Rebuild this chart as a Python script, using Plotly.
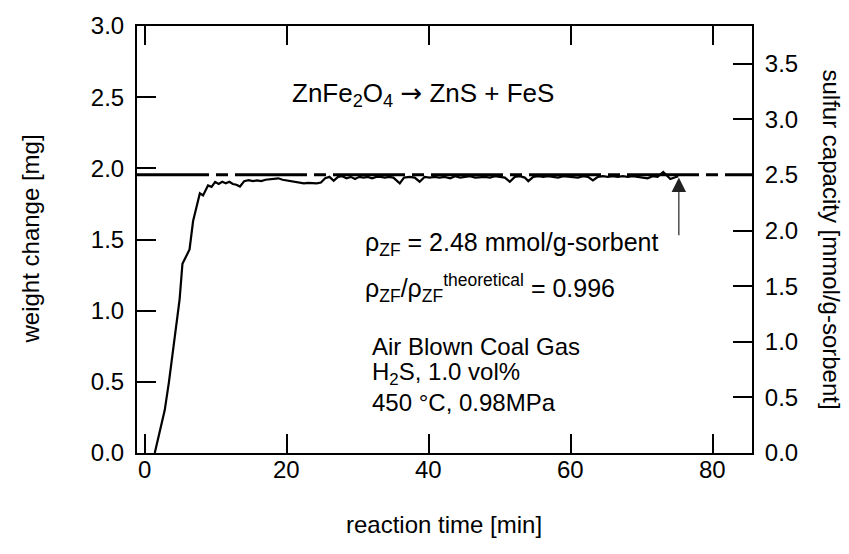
import plotly.graph_objects as go

# ---- data ----
time_min = [1.4, 2.0, 2.8, 3.4, 4.0, 4.5, 4.9, 5.3, 5.8, 6.3, 6.8, 7.2, 7.75, 8.2, 8.9, 9.4, 9.9,
            10.4, 10.9, 11.4, 11.9, 12.4, 12.9, 13.4, 14.0, 14.6, 15.2, 15.8, 16.4, 17.0, 17.6,
            18.2, 18.8, 19.4, 20.0, 20.6, 21.2, 21.8, 22.4, 23.0, 23.6, 24.2, 24.8, 25.4, 26.0,
            26.6, 27.2, 27.8, 28.4, 29.0, 29.6, 30.2, 30.8, 31.4, 32.0, 32.6, 33.2, 33.8, 34.4,
            35.0, 35.9, 36.5, 37.3, 38.0, 38.7, 39.4, 40.1, 40.8, 41.5, 42.2, 43.0, 43.7, 44.4,
            45.1, 45.8, 46.5, 47.2, 47.9, 48.6, 49.3, 50.0, 50.7, 51.4, 52.1, 52.8, 53.5, 54.0,
            54.7, 55.4, 56.1, 56.8, 57.5, 58.2, 58.9, 59.6, 60.3, 61.0, 61.7, 62.4, 63.1, 63.8,
            64.5, 65.2, 65.9, 66.6, 67.3, 68.0, 68.7, 69.4, 70.1, 70.8, 71.5, 72.2, 73.0, 74.0,
            75.1]
weight_mg = [0.0, 0.12, 0.30, 0.50, 0.73, 0.96, 1.08, 1.33, 1.38, 1.43, 1.63, 1.72, 1.825, 1.81,
             1.88, 1.87, 1.905, 1.89, 1.905, 1.895, 1.905, 1.89, 1.885, 1.872, 1.91, 1.917, 1.91,
             1.915, 1.91, 1.92, 1.925, 1.93, 1.93, 1.92, 1.915, 1.905, 1.90, 1.895, 1.895, 1.898,
             1.895, 1.894, 1.90, 1.93, 1.94, 1.912, 1.94, 1.945, 1.93, 1.94, 1.925, 1.94, 1.935,
             1.94, 1.93, 1.94, 1.94, 1.935, 1.94, 1.935, 1.894, 1.935, 1.94, 1.935, 1.906, 1.94,
             1.935, 1.94, 1.935, 1.94, 1.93, 1.945, 1.935, 1.94, 1.945, 1.935, 1.94, 1.94, 1.935,
             1.945, 1.94, 1.935, 1.905, 1.94, 1.945, 1.935, 1.91, 1.94, 1.945, 1.94, 1.945, 1.94,
             1.935, 1.945, 1.94, 1.94, 1.935, 1.945, 1.94, 1.915, 1.94, 1.945, 1.94, 1.945, 1.94,
             1.945, 1.94, 1.945, 1.94, 1.935, 1.93, 1.945, 1.94, 1.975, 1.925, 1.945]

plateau_mg = 1.955          # dashed saturation level
arrow_time = 75.2           # arrow position
arrow_tail_mg = 1.52

x_ticks = [0, 20, 40, 60, 80]
y_ticks = [0.0, 0.5, 1.0, 1.5, 2.0, 2.5, 3.0]
y2_ticks = [0.0, 0.5, 1.0, 1.5, 2.0, 2.5, 3.0, 3.5]

x_range = [-1.1, 85.5]
y_range = [0, 3.0]
y2_range = [0, 3.84]

FONT = "Liberation Sans, Arial, sans-serif"
FS = 24

fig = go.Figure()
fig.add_trace(go.Scatter(x=time_min, y=weight_mg, mode="lines",
                         line=dict(color="black", width=2.2), showlegend=False, hoverinfo="skip"))
# invisible trace to activate the secondary axis
fig.add_trace(go.Scatter(x=[x_range[0]], y=[0], yaxis="y2", mode="markers",
                         marker=dict(opacity=0), showlegend=False, hoverinfo="skip"))

fig.add_shape(type="line", xref="paper", x0=0, x1=1, yref="y", y0=plateau_mg, y1=plateau_mg,
              line=dict(color="black", width=3, dash="72px,7px,12px,7px"))

fig.add_annotation(x=arrow_time, y=plateau_mg - 0.02, ax=arrow_time, ay=arrow_tail_mg,
                   xref="x", yref="y", axref="x", ayref="y", text="", showarrow=True,
                   arrowhead=2, arrowsize=2.4, arrowwidth=1.2, arrowcolor="#222")

def txt(xp, yp, s, size=FS):
    fig.add_annotation(x=(xp - 137) / 615, y=(453 - yp) / 435, xref="paper", yref="paper",
                       text=s, showarrow=False, xanchor="left", yanchor="middle",
                       font=dict(family=FONT, size=size, color="black"))

txt(290, 88, "ZnFe<sub>2</sub>O<sub>4</sub> <span style='font-family:DejaVu Sans'>→</span> ZnS + FeS", 26)
txt(363, 240, "ρ<sub>ZF</sub> = 2.48 mmol/g-sorbent", 25)
txt(363, 285, "ρ<sub>ZF</sub>/ρ<sub>ZF</sub><sup>theoretical</sup> = 0.996", 25)
txt(370, 345, "Air Blown Coal Gas")
txt(370, 372, "H<sub>2</sub>S, 1.0 vol%")
txt(370, 402, "450 °C, 0.98MPa")

# x tick labels (placed explicitly to match the reference spacing)
for v in x_ticks:
    fig.add_annotation(x=v, y=(453 - 470) / 435, xref="x", yref="paper", text=str(v),
                       showarrow=False, xanchor="center", yanchor="middle",
                       font=dict(family=FONT, size=FS, color="black"))

# axis titles
fig.add_annotation(x=(444 - 137) / 615, y=(453 - 526) / 435, xref="paper", yref="paper",
                   text="reaction time [min]", showarrow=False, xanchor="center", yanchor="middle",
                   font=dict(family=FONT, size=FS, color="black"))
fig.add_annotation(x=(30 - 137) / 615, y=0.5, xref="paper", yref="paper",
                   text="weight change [mg]", showarrow=False, textangle=-90,
                   xanchor="center", yanchor="middle",
                   font=dict(family=FONT, size=FS, color="black"))
fig.add_annotation(x=(831 - 137) / 615, y=0.5, xref="paper", yref="paper",
                   text="sulfur capacity [mmol/g-sorbent]", showarrow=False, textangle=90,
                   xanchor="center", yanchor="middle",
                   font=dict(family=FONT, size=FS, color="black"))

axis_common = dict(showgrid=False, zeroline=False, showline=True, linecolor="black", linewidth=2,
                   ticks="inside", ticklen=19, tickwidth=2, tickcolor="black",
                   tickfont=dict(family=FONT, size=FS, color="black"))

fig.update_layout(
    width=849, height=554,
    margin=dict(l=137, r=97, t=18, b=101),
    paper_bgcolor="white", plot_bgcolor="white",
    xaxis=dict(range=x_range, tickvals=x_ticks, showticklabels=False,
               mirror="ticks", **axis_common),
    yaxis=dict(range=y_range, tickvals=y_ticks, ticktext=[f"{v:.1f}" for v in y_ticks],
               ticklabelstandoff=6, **axis_common),
    yaxis2=dict(range=y2_range, tickvals=y2_ticks, ticktext=[f"{v:.1f}" for v in y2_ticks],
                overlaying="y", side="right", ticklabelstandoff=6, **axis_common),
)

fig.write_html("out.html")
